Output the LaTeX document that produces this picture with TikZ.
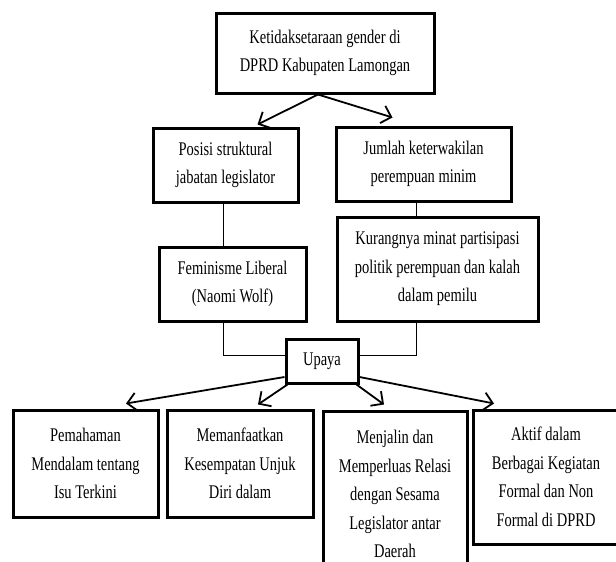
\documentclass[tikz,border=0pt]{standalone}
\usepackage{fontspec}
\setmainfont{Liberation Serif}[FakeStretch=0.75]
\usetikzlibrary{arrows.meta}
\begin{document}
\begin{tikzpicture}[x=1pt,y=-1pt,
  box/.style={draw,line width=3pt,align=center,inner sep=0pt,fill=white,
    font=\fontsize{19.3}{28.5}\selectfont},
  conn/.style={line width=1.8pt,-{Straight Barb[length=9pt,width=18pt]}},
  thinline/.style={line width=0.9pt}]
\clip (0,0) rectangle (616,562);
\fill[white] (0,0) rectangle (616,562);
% boxes
\node[box,minimum width=218pt,minimum height=80pt] (top) at (325,53)
  {Ketidaksetaraan gender di\\DPRD Kabupaten Lamongan};
\node[box,minimum width=145pt,minimum height=74pt] (posisi) at (225.5,165)
  {Posisi struktural\\jabatan legislator};
\node[box,minimum width=175pt,minimum height=74pt] (jumlah) at (423.5,164)
  {Jumlah keterwakilan\\perempuan minim};
\node[box,minimum width=147pt,minimum height=74pt] (feminis) at (232.5,284)
  {Feminisme Liberal\\(Naomi Wolf)};
\node[box,minimum width=201pt,minimum height=104pt] (kurang) at (437.5,269)
  {Kurangnya minat partisipasi\\politik perempuan dan kalah\\dalam pemilu};
\node[box,minimum width=72pt,minimum height=44pt] (upaya) at (322,361) {Upaya};
\node[box,minimum width=145pt,minimum height=107pt] (b1) at (85.5,463.5)
  {Pemahaman\\Mendalam tentang\\Isu Terkini};
\node[box,minimum width=146pt,minimum height=107pt] (b2) at (240,463.5)
  {Memanfaatkan\\Kesempatan Unjuk\\Diri dalam};
\node[box,minimum width=144pt,minimum height=166pt] (b3) at (395,494)
  {Menjalin dan\\Memperluas Relasi\\dengan Sesama\\Legislator antar\\Daerah};
\node[box,minimum width=146pt,minimum height=134pt] (b4) at (546,477)
  {Aktif dalam\\Berbagai Kegiatan\\Formal dan Non\\Formal di DPRD};
% plain lines
\draw[thinline] ([xshift=-2.5pt]posisi.south) -- ([xshift=-2.5pt]posisi.south |- feminis.north);
\draw[thinline] ([xshift=-7.5pt]jumlah.south) -- ([xshift=-7.5pt]jumlah.south |- kurang.north);
\draw[thinline] ([xshift=-9.5pt]feminis.south) |- ([yshift=6pt]upaya.west);
\draw[thinline] ([xshift=-21.5pt]kurang.south) |- ([yshift=6pt]upaya.east);
% arrows
\draw[conn] ([xshift=-7pt]top.south) -- ([xshift=32pt,yshift=2pt]posisi.north);
\draw[conn] ([xshift=-7pt]top.south) -- ([xshift=-31pt,yshift=8pt]jumlah.north);
\draw[conn] ([yshift=-16pt]upaya.west) -- ([xshift=40.5pt,yshift=5pt]b1.north);
\draw[conn] ([xshift=3pt]upaya.south west) -- ([xshift=18pt,yshift=4pt]b2.north);
\draw[conn] ([xshift=-3pt]upaya.south east) -- ([xshift=-11pt,yshift=5pt]b3.north);
\draw[conn] ([yshift=-16pt]upaya.east) -- ([xshift=-52pt,yshift=5pt]b4.north);
\end{tikzpicture}
\end{document}
